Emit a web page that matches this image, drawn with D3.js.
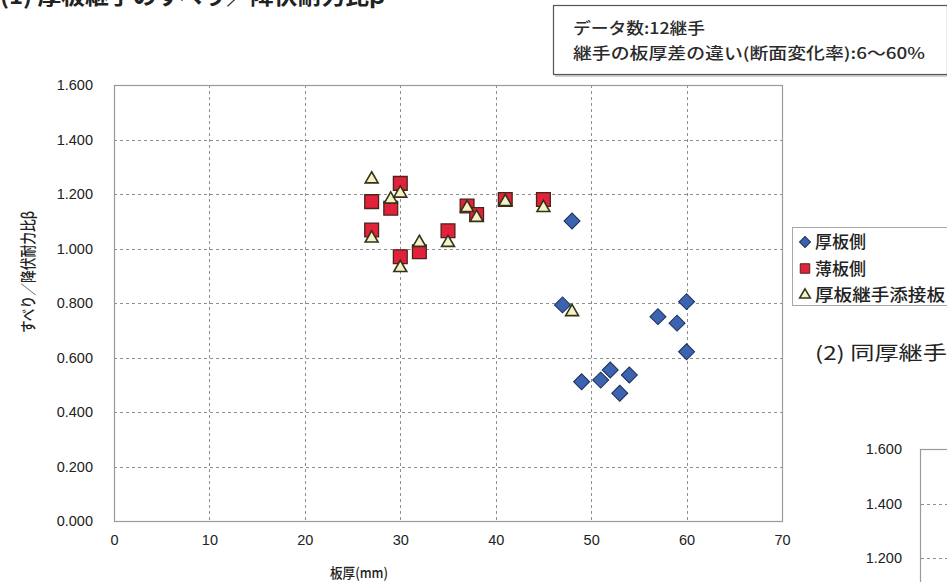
<!DOCTYPE html>
<html>
<head>
<meta charset="utf-8">
<script src="https://cdn.jsdelivr.net/npm/d3@7/dist/d3.min.js"></script>
<style>
  html, body { margin: 0; padding: 0; background: #fff; }
  svg { display: block; }
</style>
</head>
<body>
<svg id="chart" width="947" height="582"></svg>
<script>
// ---- data -------------------------------------------------------------
const xTickValues = [0, 10, 20, 30, 40, 50, 60, 70];
const yTickValues = [0, 0.2, 0.4, 0.6, 0.8, 1.0, 1.2, 1.4, 1.6];
const rightYTickValues = [1.2, 1.4, 1.6];

const seriesNames = ["厚板側", "薄板側", "厚板継手添接板"];

// 厚板側 (thick plate side)
const thickX = [48, 47, 49, 51, 52, 53, 54, 57, 59, 60, 60];
const thickY = [1.101, 0.793, 0.511, 0.517, 0.554, 0.469, 0.536, 0.750, 0.726, 0.805, 0.621];

// 薄板側 (thin plate side)
const thinX = [27, 27, 29, 30, 30, 32, 35, 37, 38, 41, 45];
const thinY = [1.172, 1.068, 1.148, 1.239, 0.970, 0.988, 1.065, 1.156, 1.125, 1.180, 1.180];

// 厚板継手添接板 (splice plate)
const plateX = [27, 27, 29, 30, 30, 32, 35, 37, 38, 41, 45, 48];
const plateY = [1.258, 1.041, 1.184, 1.206, 0.933, 1.025, 1.025, 1.153, 1.117, 1.175, 1.153, 0.771];

const titleLeft = "(1) 厚板継手のすべり／降伏耐力比β";
const titleRight = "(2) 同厚継手";
const noteLines = ["データ数:12継手", "継手の板厚差の違い(断面変化率):6～60%"];
const xLabel = "板厚(mm)";
const yLabel = "すべり／降伏耐力比β";

// ---- layout -----------------------------------------------------------
const svg = d3.select("#chart");
const JP = "'Noto Sans CJK JP', 'Noto Sans', sans-serif";
const NUM = "'Liberation Sans', Arial, sans-serif";

const plot = { left: 114, right: 782, top: 85, bottom: 521 };

const x = d3.scaleLinear().domain([0, 70]).range([plot.left, plot.right]);
const y = d3.scaleLinear().domain([0, 1.6]).range([plot.bottom, plot.top]);
const fmt = d3.format(".3f");

// gridlines
const grid = svg.append("g").attr("stroke", "#8f8f8f").attr("stroke-width", 1)
  .attr("stroke-dasharray", "3,3");
grid.selectAll("line.h").data(yTickValues.filter(d => d > 0 && d < 1.6)).join("line")
  .attr("x1", plot.left).attr("x2", plot.right)
  .attr("y1", d => Math.round(y(d)) + 0.5).attr("y2", d => Math.round(y(d)) + 0.5);
grid.selectAll("line.v").data(xTickValues.filter(d => d > 0 && d < 70)).join("line")
  .attr("y1", plot.top).attr("y2", plot.bottom)
  .attr("x1", d => Math.round(x(d)) + 0.5).attr("x2", d => Math.round(x(d)) + 0.5);

// plot frame
svg.append("rect")
  .attr("x", plot.left + 0.5).attr("y", plot.top + 0.5)
  .attr("width", plot.right - plot.left).attr("height", plot.bottom - plot.top)
  .attr("fill", "none").attr("stroke", "#9a9a9a").attr("stroke-width", 1.2);

// axes (labels only, frame drawn above)
const xAxis = svg.append("g").attr("transform", `translate(0,${plot.bottom + 24})`)
  .call(d3.axisBottom(x).tickValues(xTickValues).tickSize(0).tickPadding(0));
xAxis.select(".domain").remove();
xAxis.selectAll("text").attr("font-family", NUM).attr("font-size", 14.5)
  .attr("fill", "#222").attr("dy", "0");

const yAxis = svg.append("g").attr("transform", `translate(${plot.left - 21},0)`)
  .call(d3.axisLeft(y).tickValues(yTickValues).tickFormat(fmt).tickSize(0).tickPadding(0));
yAxis.select(".domain").remove();
yAxis.selectAll("text").attr("font-family", NUM).attr("font-size", 14.5)
  .attr("fill", "#222");

// axis titles
svg.append("text").attr("x", 359).attr("y", 578)
  .attr("text-anchor", "middle").attr("font-family", JP).attr("font-size", 14)
  .attr("font-weight", 500).attr("fill", "#222")
  .attr("textLength", 58).attr("lengthAdjust", "spacingAndGlyphs").text(xLabel);

svg.append("text")
  .attr("transform", "translate(28,272) rotate(-90) scale(1,1.3)")
  .attr("text-anchor", "middle").attr("dy", "0.36em")
  .attr("font-family", JP).attr("font-size", 12.5).attr("font-weight", 500)
  .attr("fill", "#222").attr("textLength", 122).attr("lengthAdjust", "spacingAndGlyphs")
  .text(yLabel);

// ---- markers ---------------------------------------------------------
const diamond = d3.symbol().type(d3.symbolSquare).size(128);
const square = d3.symbol().type(d3.symbolSquare).size(190);
const triangle = d3.symbol().type(d3.symbolTriangle).size(72);

const thick = thickX.map((v, i) => ({ x: v, y: thickY[i] }));
const thin = thinX.map((v, i) => ({ x: v, y: thinY[i] }));
const plate = plateX.map((v, i) => ({ x: v, y: plateY[i] }));

svg.append("g").selectAll("path").data(thick).join("path")
  .attr("d", diamond)
  .attr("transform", d => `translate(${x(d.x)},${y(d.y)}) rotate(45)`)
  .attr("fill", "#3b63b0").attr("stroke", "#1c2c55").attr("stroke-width", 1);

svg.append("g").selectAll("path").data(thin).join("path")
  .attr("d", square)
  .attr("transform", d => `translate(${x(d.x)},${y(d.y)})`)
  .attr("fill", "#e2223a").attr("stroke", "#4a2418").attr("stroke-width", 1.3);

svg.append("g").selectAll("path").data(plate).join("path")
  .attr("d", triangle)
  .attr("transform", d => `translate(${x(d.x)},${y(d.y) + 1})`)
  .attr("fill", "#f6f1c6").attr("stroke", "#33331a").attr("stroke-width", 1.6);

// ---- legend ------------------------------------------------------------
const legend = svg.append("g");
legend.append("rect").attr("x", 792.5).attr("y", 227.5).attr("width", 160).attr("height", 78)
  .attr("fill", "#fff").attr("stroke", "#a8a8a8").attr("stroke-width", 1);
const legendRows = [
  { name: seriesNames[0], sym: d3.symbol().type(d3.symbolSquare).size(60), rot: 45, fill: "#3b63b0", stroke: "#1c2c55", len: 51, sw: 1 },
  { name: seriesNames[1], sym: d3.symbol().type(d3.symbolSquare).size(90), rot: 0, fill: "#e2223a", stroke: "#4a2418", len: 51, sw: 1 },
  { name: seriesNames[2], sym: d3.symbol().type(d3.symbolTriangle).size(50), rot: 0, fill: "#f6f1c6", stroke: "#33331a", len: 130, sw: 1.5 }
];
legendRows.forEach((r, i) => {
  const cy = 242 + i * 26.5;
  legend.append("path").attr("d", r.sym())
    .attr("transform", `translate(805,${cy}) rotate(${r.rot})`)
    .attr("fill", r.fill).attr("stroke", r.stroke).attr("stroke-width", r.sw);
  legend.append("text").attr("x", 815).attr("y", cy).attr("dy", "0.38em")
    .attr("font-family", JP).attr("font-size", 16.5).attr("font-weight", 500)
    .attr("fill", "#222").attr("textLength", r.len).attr("lengthAdjust", "spacingAndGlyphs")
    .text(r.name);
});

// ---- note box ------------------------------------------------------------
svg.append("rect").attr("x", 555).attr("y", 8).attr("width", 394).attr("height", 69)
  .attr("fill", "#cfcfcf");
svg.append("rect").attr("x", 553.5).attr("y", 5.5).attr("width", 394).attr("height", 69)
  .attr("fill", "#fff").attr("stroke", "#555").attr("stroke-width", 1.2);
const noteLens = [132, 352];
noteLines.forEach((t, i) => {
  svg.append("text").attr("x", 573).attr("y", 28 + i * 25).attr("dy", "0.38em")
    .attr("font-family", JP).attr("font-size", 15.5).attr("font-weight", 500)
    .attr("fill", "#2a2a2a").attr("textLength", noteLens[i]).attr("lengthAdjust", "spacingAndGlyphs")
    .text(t);
});

// ---- titles ------------------------------------------------------------
svg.append("text").attr("x", 0).attr("y", 4)
  .attr("font-family", JP).attr("font-size", 22).attr("font-weight", 700)
  .attr("fill", "#222").attr("textLength", 385).attr("lengthAdjust", "spacingAndGlyphs")
  .text(titleLeft);

svg.append("text").attr("x", 815).attr("y", 353).attr("dy", "0.38em")
  .attr("font-family", JP).attr("font-size", 19).attr("font-weight", 400)
  .attr("fill", "#222").attr("textLength", 132).attr("lengthAdjust", "spacingAndGlyphs")
  .text(titleRight);

// ---- second chart (partly visible) ----------------------------------------
const y2 = d3.scaleLinear().domain([0, 1.6]).range([449 + 436, 449]);
svg.append("line").attr("x1", 920.5).attr("x2", 920.5).attr("y1", 449).attr("y2", 582)
  .attr("stroke", "#9a9a9a").attr("stroke-width", 1.2);
svg.append("line").attr("x1", 920).attr("x2", 947).attr("y1", 449.5).attr("y2", 449.5)
  .attr("stroke", "#9a9a9a").attr("stroke-width", 1.2);
svg.append("g").selectAll("line").data(rightYTickValues.filter(d => d < 1.6)).join("line")
  .attr("x1", 921).attr("x2", 947)
  .attr("y1", d => Math.round(y2(d)) + 0.5).attr("y2", d => Math.round(y2(d)) + 0.5)
  .attr("stroke", "#8f8f8f").attr("stroke-dasharray", "3,3");
const y2Axis = svg.append("g").attr("transform", "translate(902,0)")
  .call(d3.axisLeft(y2).tickValues(rightYTickValues).tickFormat(fmt).tickSize(0).tickPadding(0));
y2Axis.select(".domain").remove();
y2Axis.selectAll("text").attr("font-family", NUM).attr("font-size", 14.5).attr("fill", "#222");
</script>
</body>
</html>
